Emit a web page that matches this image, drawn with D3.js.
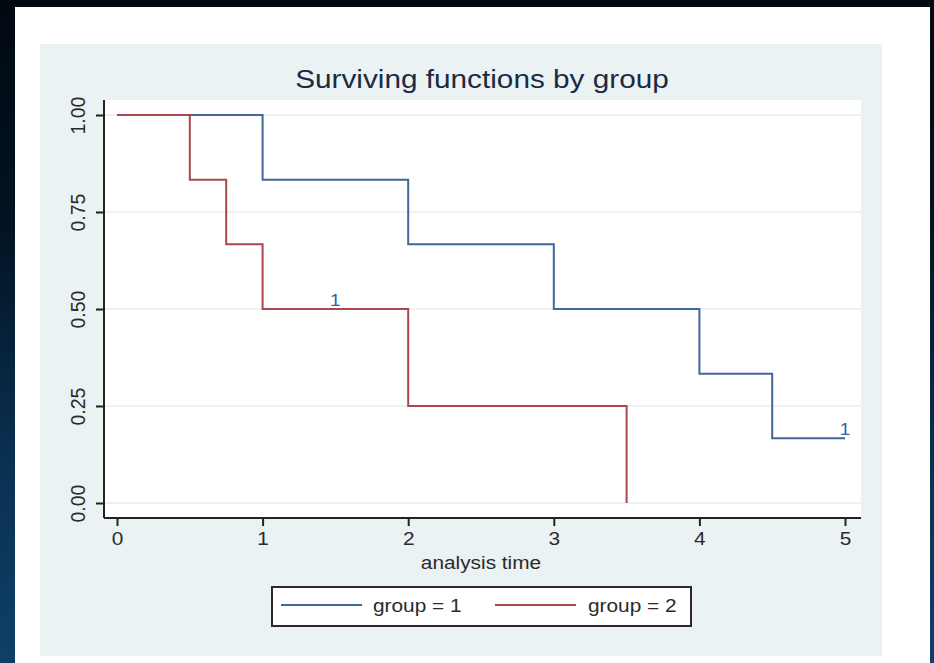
<!DOCTYPE html>
<html>
<head>
<meta charset="utf-8">
<script src="https://cdn.jsdelivr.net/npm/d3@7"></script>
<style>
  html, body { margin: 0; padding: 0; }
  body {
    width: 934px; height: 663px; overflow: hidden;
    background: linear-gradient(to bottom, #010910 0%, #021424 35%, #0a3152 70%, #0f3f67 100%);
  }
  svg { display: block; }
  text { font-family: "Liberation Sans", Arial, Helvetica, sans-serif; }
</style>
</head>
<body>
<svg id="chart" width="934" height="663"></svg>
<script>
// Kaplan-Meier survivor estimates, one step series per group
const groups = ["group = 1", "group = 2"];
const times1 = [0, 1, 2, 3, 4, 4.5, 5];
const surv1 = [1, 0.8333, 0.6667, 0.5, 0.3333, 0.1667, 0.1667];
const times2 = [0, 0.5, 0.75, 1, 2, 3.5];
const surv2 = [1, 0.8333, 0.6667, 0.5, 0.25, 0];

// censored observations: time, survivor value, number censored
const censorTimes = [1.5, 5];
const censorSurv = [0.5, 0.1667];
const censorCounts = [1, 1];

const xTicks = [0, 1, 2, 3, 4, 5];
const yTicks = [0, 0.25, 0.5, 0.75, 1];
const yTickLabels = ["0.00", "0.25", "0.50", "0.75", "1.00"];

const titleText = "Surviving functions by group";
const xTitle = "analysis time";

const colors = ["#41679a", "#a9464f"];
const SX = 1.19; // horizontal text stretch

const svg = d3.select("#chart");

// white page and grey-blue graph region
svg.append("rect").attr("x", 15).attr("y", 7).attr("width", 915).attr("height", 660).attr("fill", "#ffffff");
svg.append("rect").attr("x", 40).attr("y", 44).attr("width", 842).attr("height", 612).attr("fill", "#eaf2f3");

const plot = { left: 104, right: 861, top: 100, bottom: 518 };
svg.append("rect").attr("x", plot.left).attr("y", plot.top)
  .attr("width", plot.right - plot.left).attr("height", plot.bottom - plot.top).attr("fill", "#ffffff");

const x = d3.scaleLinear().domain([0, 5]).range([117, 845]);
const y = d3.scaleLinear().domain([0, 1]).range([503, 115]);

// horizontal grid lines
svg.append("g").selectAll("line").data(yTicks).join("line")
  .attr("x1", plot.left).attr("x2", plot.right)
  .attr("y1", d => y(d)).attr("y2", d => y(d))
  .attr("stroke", "#e6eff0").attr("stroke-width", 1.6);

// survivor curves
const line = d3.line().x(d => x(d[0])).y(d => y(d[1])).curve(d3.curveStepAfter);
const series = [d3.zip(times1, surv1), d3.zip(times2, surv2)];
svg.append("g").selectAll("path").data(series).join("path")
  .attr("d", line).attr("fill", "none")
  .attr("stroke", (d, i) => colors[i]).attr("stroke-width", 2);

// censoring counts
svg.append("g").selectAll("text").data(censorTimes).join("text")
  .attr("transform", (d, i) => `translate(${x(d)},${y(censorSurv[i]) - 3}) scale(${SX},1)`)
  .attr("text-anchor", "middle").attr("font-size", 16).attr("fill", "#2f62a0")
  .text((d, i) => censorCounts[i]);

// axes
const axisColor = "#222222";
const xAxis = d3.axisBottom(x).tickValues(xTicks).tickSize(8).tickFormat(d3.format("d"));
const gx = svg.append("g").attr("transform", `translate(0,${plot.bottom})`).call(xAxis);
gx.select(".domain").attr("d", `M${plot.left},0H${plot.right}`).attr("stroke", axisColor).attr("stroke-width", 2);
gx.selectAll(".tick line").attr("stroke", axisColor).attr("stroke-width", 2);
gx.selectAll(".tick text").attr("y", 0).attr("dy", 0)
  .attr("transform", `translate(0,27) scale(${SX},1)`)
  .attr("font-size", 17.5).attr("fill", "#2a2a2a").attr("font-family", null);

const yAxis = d3.axisLeft(y).tickValues(yTicks).tickSize(8).tickFormat((d, i) => yTickLabels[i]);
const gy = svg.append("g").attr("transform", `translate(${plot.left},0)`).call(yAxis);
gy.select(".domain").attr("d", `M0,${plot.top}V${plot.bottom}`).attr("stroke", axisColor).attr("stroke-width", 2);
gy.selectAll(".tick line").attr("stroke", axisColor).attr("stroke-width", 2);
gy.selectAll(".tick text").attr("x", 0).attr("dy", 0).attr("text-anchor", "middle")
  .attr("transform", `translate(-19,0) scale(1.05,1) rotate(-90)`)
  .attr("font-size", 19.5).attr("fill", "#2a2a2a").attr("font-family", null);

// titles
svg.append("text").attr("transform", `translate(482,88) scale(${SX},1)`)
  .attr("text-anchor", "middle").attr("font-size", 25).attr("fill", "#1c2a44").text(titleText);
svg.append("text").attr("transform", `translate(481,569) scale(${SX},1)`)
  .attr("text-anchor", "middle").attr("font-size", 17.5).attr("fill", "#2a2a2a").text(xTitle);

// legend
const lg = svg.append("g");
lg.append("rect").attr("x", 272).attr("y", 587).attr("width", 419).attr("height", 39)
  .attr("fill", "#ffffff").attr("stroke", "#2a2a2a").attr("stroke-width", 2);
const keyX = [281, 495];
const labelX = [373, 588];
lg.selectAll("line").data(groups).join("line")
  .attr("x1", (d, i) => keyX[i]).attr("x2", (d, i) => keyX[i] + 81)
  .attr("y1", 605).attr("y2", 605)
  .attr("stroke", (d, i) => colors[i]).attr("stroke-width", 2);
lg.selectAll("text").data(groups).join("text")
  .attr("transform", (d, i) => `translate(${labelX[i]},612) scale(${SX},1)`)
  .attr("font-size", 17.5).attr("fill", "#2a2a2a").text(d => d);
</script>
</body>
</html>
